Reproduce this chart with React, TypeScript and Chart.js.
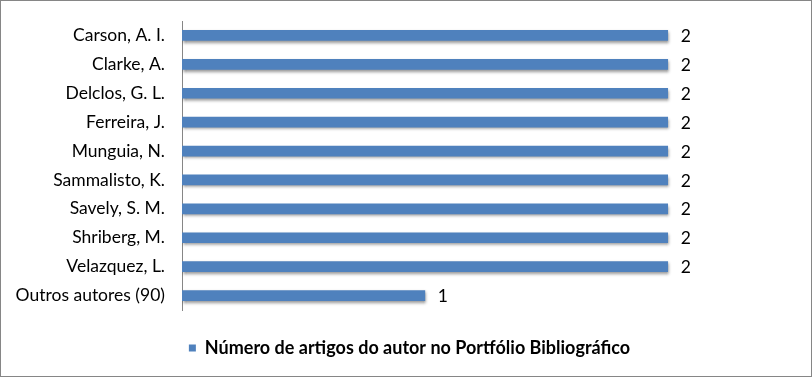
import React, { useEffect, useRef } from "react";
import { Chart, registerables } from "chart.js";

Chart.register(...registerables);

const categories = [
  "Carson, A. I.",
  "Clarke, A.",
  "Delclos, G. L.",
  "Ferreira, J.",
  "Munguia, N.",
  "Sammalisto, K.",
  "Savely, S. M.",
  "Shriberg, M.",
  "Velazquez, L.",
  "Outros autores (90)",
];
const values = [2, 2, 2, 2, 2, 2, 2, 2, 2, 1];
const seriesName = "Número de artigos do autor no Portfólio Bibliográfico";

const FONT = "Lato, 'Open Sans', sans-serif";

const shadowPlugin = {
  id: "barShadow",
  beforeDatasetDraw(chart: any) {
    const ctx = chart.ctx;
    ctx.save();
    ctx.shadowColor = "rgba(0,0,0,0.45)";
    ctx.shadowBlur = 3;
    ctx.shadowOffsetX = 1;
    ctx.shadowOffsetY = 2;
  },
  afterDatasetDraw(chart: any) {
    chart.ctx.restore();
  },
};

const labelPlugin = {
  id: "valueLabels",
  afterDatasetsDraw(chart: any) {
    const ctx = chart.ctx;
    const meta = chart.getDatasetMeta(0);
    ctx.save();
    ctx.font = `17.5px ${FONT}`;
    ctx.fillStyle = "#000";
    ctx.textAlign = "left";
    ctx.textBaseline = "middle";
    meta.data.forEach((bar: any, i: number) => {
      ctx.fillText(String(values[i]), bar.x + 13, bar.y + 1);
    });
    ctx.restore();
  },
};

export default function App() {
  const ref = useRef<HTMLCanvasElement | null>(null);
  useEffect(() => {
    const prevMargin = document.body.style.margin;
    document.body.style.margin = "0";
    const chart = new Chart(ref.current!, {
      type: "bar",
      data: {
        labels: categories,
        datasets: [
          {
            label: seriesName,
            data: values,
            backgroundColor: "#4F81BD",
            borderWidth: 0,
            barThickness: 10,
          },
        ],
      },
      options: {
        indexAxis: "y",
        animation: false,
        responsive: false,
        maintainAspectRatio: false,
        layout: { padding: { top: 20, right: 0, left: 7, bottom: 9 } },
        scales: {
          x: {
            display: true,
            min: 0,
            max: 2.59,
            grid: { display: false, drawTicks: false },
            border: { display: false },
            ticks: { display: false },
            afterFit: (scale: any) => {
              scale.height = 19;
            },
          },
          y: {
            grid: { display: false, drawTicks: false },
            border: { display: true, color: "#868686", width: 1 },
            ticks: { color: "#000", font: { family: FONT, size: 17.5 }, padding: 17 },
            afterFit: (scale: any) => {
              scale.width = 174;
              scale.paddingTop = 0;
              scale.paddingBottom = 0;
            },
          },
        },
        plugins: {
          legend: {
            display: true,
            position: "bottom",
            labels: {
              color: "#000",
              font: { family: FONT, size: 18, weight: "bold" },
              boxWidth: 7,
              boxHeight: 7,
              padding: 10,
            },
          },
          tooltip: { enabled: false },
        },
      },
      plugins: [shadowPlugin, labelPlugin],
    });
    return () => {
      chart.destroy();
      document.body.style.margin = prevMargin;
    };
  }, []);
  return (
    <div
      style={{
        position: "absolute",
        left: 0,
        top: 0,
        width: 812,
        height: 377,
        boxSizing: "border-box",
        border: "1px solid #868686",
        background: "#fff",
      }}
    >
      <canvas ref={ref} width={810} height={375} style={{ display: "block" }} />
    </div>
  );
}
